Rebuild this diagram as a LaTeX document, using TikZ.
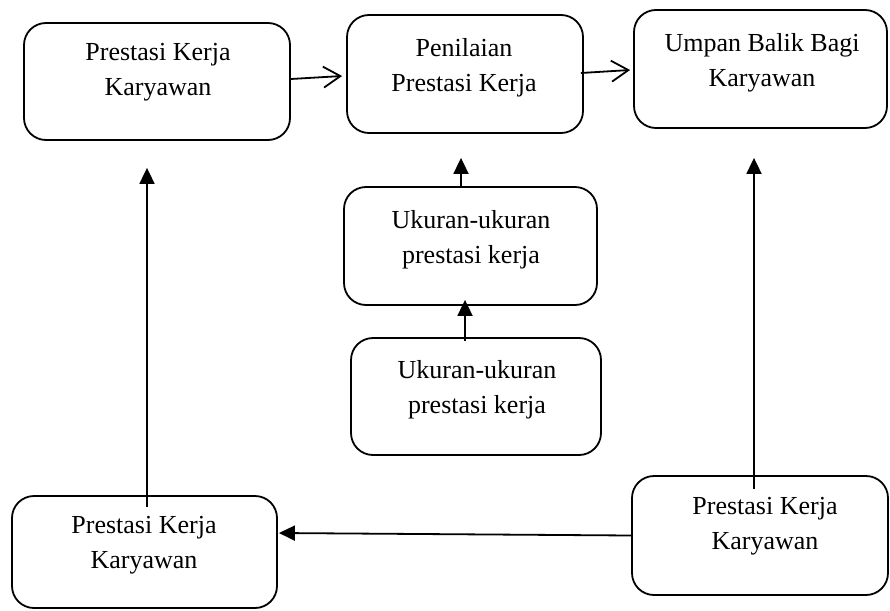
\documentclass[tikz,border=0pt]{standalone}
\usepackage{fontspec}
\setmainfont{Liberation Serif}
\usetikzlibrary{arrows.meta}
\begin{document}
\begin{tikzpicture}[x=1pt,y=-1pt,
  box/.style={draw, line width=1.8pt, rounded corners=22pt, inner sep=0pt},
  txt/.style={align=center, font=\fontsize{26}{35}\selectfont, inner sep=0pt},
  openarr/.style={line width=1.8pt, -{Straight Barb[length=17pt,width=21pt]}},
  fillarr/.style={line width=1.8pt, -{Triangle[length=16pt,width=15pt]}}]
\useasboundingbox (0,0) rectangle (890,610);
% boxes
\node[box, minimum width=266pt, minimum height=117pt] (b1) at (157,81.5) {};
\node[box, minimum width=236pt, minimum height=118pt] (b2) at (465,74) {};
\node[box, minimum width=253pt, minimum height=118pt] (b3) at (760.5,69) {};
\node[box, minimum width=253pt, minimum height=118pt] (m1) at (470.5,246) {};
\node[box, minimum width=250pt, minimum height=117pt] (m2) at (476,396.5) {};
\node[box, minimum width=265pt, minimum height=112pt] (bl) at (144.5,552) {};
\node[box, minimum width=256pt, minimum height=119pt] (br) at (760,535.5) {};
% texts
\node[txt] (t1) at (158,72.5) {Prestasi Kerja\\Karyawan};
\node[txt] (t2) at (464,68) {Penilaian\\Prestasi Kerja};
\node[txt] (t3) at (762,63) {Umpan Balik Bagi\\Karyawan};
\node[txt] (t4) at (471,240) {Ukuran-ukuran\\prestasi kerja};
\node[txt] (t5) at (477,390) {Ukuran-ukuran\\prestasi kerja};
\node[txt] (t6) at (144,545) {Prestasi Kerja\\Karyawan};
\node[txt] (t7) at (765,526) {Prestasi Kerja\\Karyawan};
% connectors
\draw[openarr] ([yshift=2.5pt]b1.east) -- ([xshift=-4pt,yshift=-2pt]b2.west);
\draw[openarr] ([xshift=-3pt,yshift=1pt]b2.east) -- ([xshift=-3pt,yshift=-1pt]b3.west);
\draw[fillarr] ([xshift=-9.5pt]m1.north) -- ([xshift=-4pt,yshift=-24pt]b2.south);
\draw[fillarr] ([xshift=-11pt,yshift=-4pt]m2.north) -- ([xshift=-5.5pt,yshift=6pt]m1.south);
\draw[fillarr] ([xshift=2.5pt,yshift=-12pt]bl.north) -- ([xshift=-10pt,yshift=-27pt]b1.south);
\draw[fillarr] ([xshift=-6pt,yshift=-14pt]br.north) -- ([xshift=-6.5pt,yshift=-29pt]b3.south);
\draw[fillarr] (br.west) -- ([xshift=1pt,yshift=19pt]bl.east);
\end{tikzpicture}
\end{document}
